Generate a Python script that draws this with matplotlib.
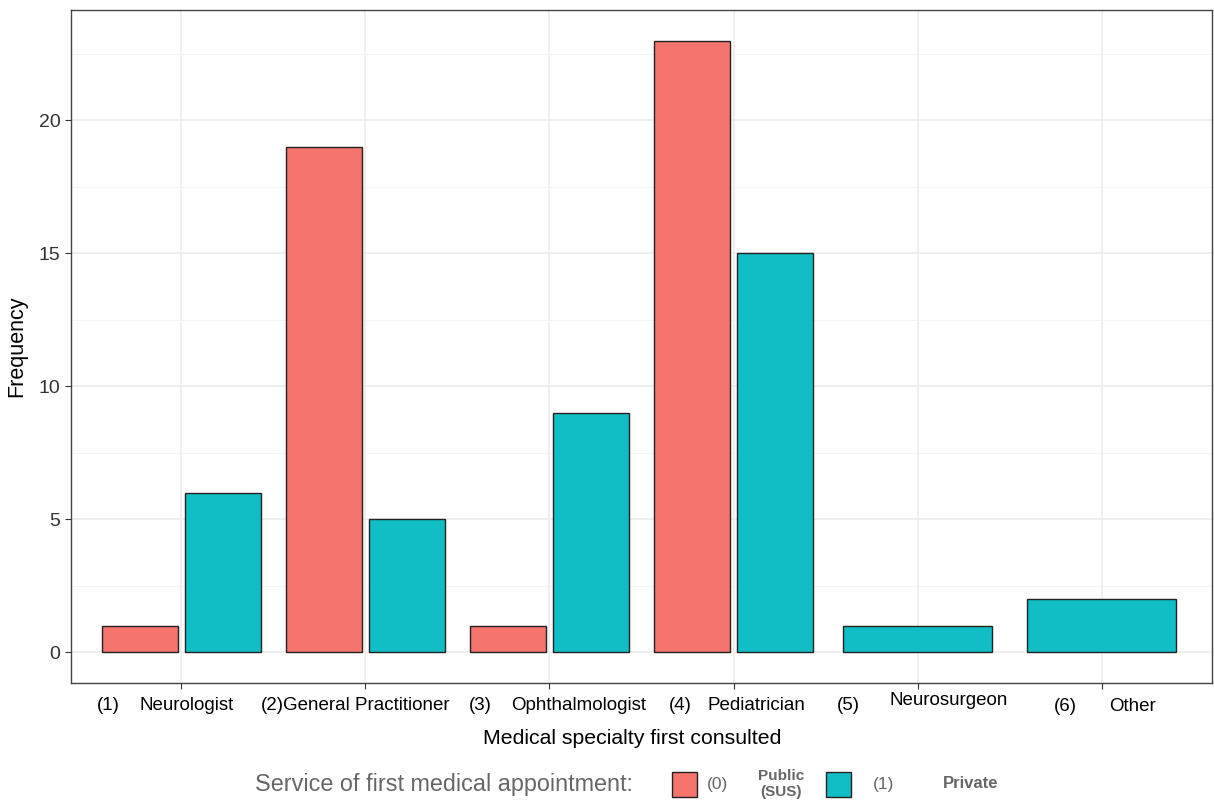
import matplotlib.pyplot as plt
from matplotlib.patches import Rectangle
from matplotlib.ticker import MultipleLocator

plt.rcParams['font.family'] = ['Liberation Sans', 'DejaVu Sans']

# data
codes = ['(1)', '(2)', '(3)', '(4)', '(5)', '(6)']
specialties = ['Neurologist', 'General Practitioner', 'Ophthalmologist',
               'Pediatrician', 'Neurosurgeon', 'Other']
public = [1, 19, 1, 23, None, None]
private = [6, 5, 9, 15, 1, 2]

red = '#F5746D'
teal = '#12BEC5'
edge = '#222222'

fig = plt.figure(figsize=(12.14, 8), dpi=100)
ax = fig.add_axes([71 / 1214, 117 / 800, 1141 / 1214, 673 / 800])

x = list(range(1, len(specialties) + 1))
bw = 0.41
for i, xi in enumerate(x):
    if public[i] is not None and private[i] is not None:
        ax.bar(xi - 0.225, public[i], width=bw, color=red, edgecolor=edge, linewidth=1, zorder=3)
        ax.bar(xi + 0.225, private[i], width=bw, color=teal, edgecolor=edge, linewidth=1, zorder=3)
    elif private[i] is not None:
        ax.bar(xi, private[i], width=0.81, color=teal, edgecolor=edge, linewidth=1, zorder=3)
    else:
        ax.bar(xi, public[i], width=0.81, color=red, edgecolor=edge, linewidth=1, zorder=3)

ax.set_xlim(0.4, 6.6)
ax.set_ylim(-1.15, 24.15)
ax.yaxis.set_major_locator(MultipleLocator(5))
ax.yaxis.set_minor_locator(MultipleLocator(2.5))
ax.set_xticks(x)
ax.set_xticklabels([])
ax.grid(True, which='major', color='#EBEBEB', linewidth=1.1, zorder=0)
ax.grid(True, which='minor', axis='y', color='#F3F3F3', linewidth=0.6, zorder=0)
ax.tick_params(axis='y', which='minor', length=0)
ax.tick_params(axis='both', which='major', length=4, color='#333333', labelsize=14, labelcolor='#333333')
for s in ax.spines.values():
    s.set_color('#444444')
    s.set_linewidth(1.0)

# custom two-part category labels
num_off = [-0.46, -0.57, -0.44, -0.35, -0.44, -0.26]
name_off = [-0.23, -0.45, -0.21, -0.14, -0.15, 0.04]
num_y = [-0.033, -0.033, -0.033, -0.033, -0.034, -0.035]
name_y = [-0.033, -0.033, -0.033, -0.033, -0.026, -0.035]
tr = ax.get_xaxis_transform()
for i, xi in enumerate(x):
    ax.text(xi + num_off[i], num_y[i], codes[i], transform=tr, ha='left', va='center', fontsize=13.5)
    ax.text(xi + name_off[i], name_y[i], specialties[i], transform=tr, ha='left', va='center', fontsize=13.5)

ax.set_ylabel('Frequency', fontsize=15.5, labelpad=8)
fig.text(632 / 1214, 1 - 738 / 800, 'Medical specialty first consulted', ha='center', va='center', fontsize=15.3)

# legend
ly = 1 - 784 / 800
fig.text(255 / 1214, ly, 'Service of first medical appointment:', ha='left', va='center',
         fontsize=16.8, color='#666666')
for bx, col in [(672, red), (826, teal)]:
    fig.patches.append(Rectangle((bx / 1214, 1 - 797 / 800), 25 / 1214, 25 / 800,
                                 transform=fig.transFigure, facecolor=col, edgecolor=edge, linewidth=1))
fig.text(707 / 1214, ly, '(0)', ha='left', va='center', fontsize=12.5, color='#666666')
fig.text(781 / 1214, ly, 'Public\n(SUS)', ha='center', va='center', fontsize=11,
         color='#666666', fontweight='bold', linespacing=1.1)
fig.text(873 / 1214, ly, '(1)', ha='left', va='center', fontsize=12.5, color='#666666')
fig.text(943 / 1214, ly, 'Private', ha='left', va='center', fontsize=12,
         color='#666666', fontweight='bold')

fig.savefig('out.png', dpi=100)
